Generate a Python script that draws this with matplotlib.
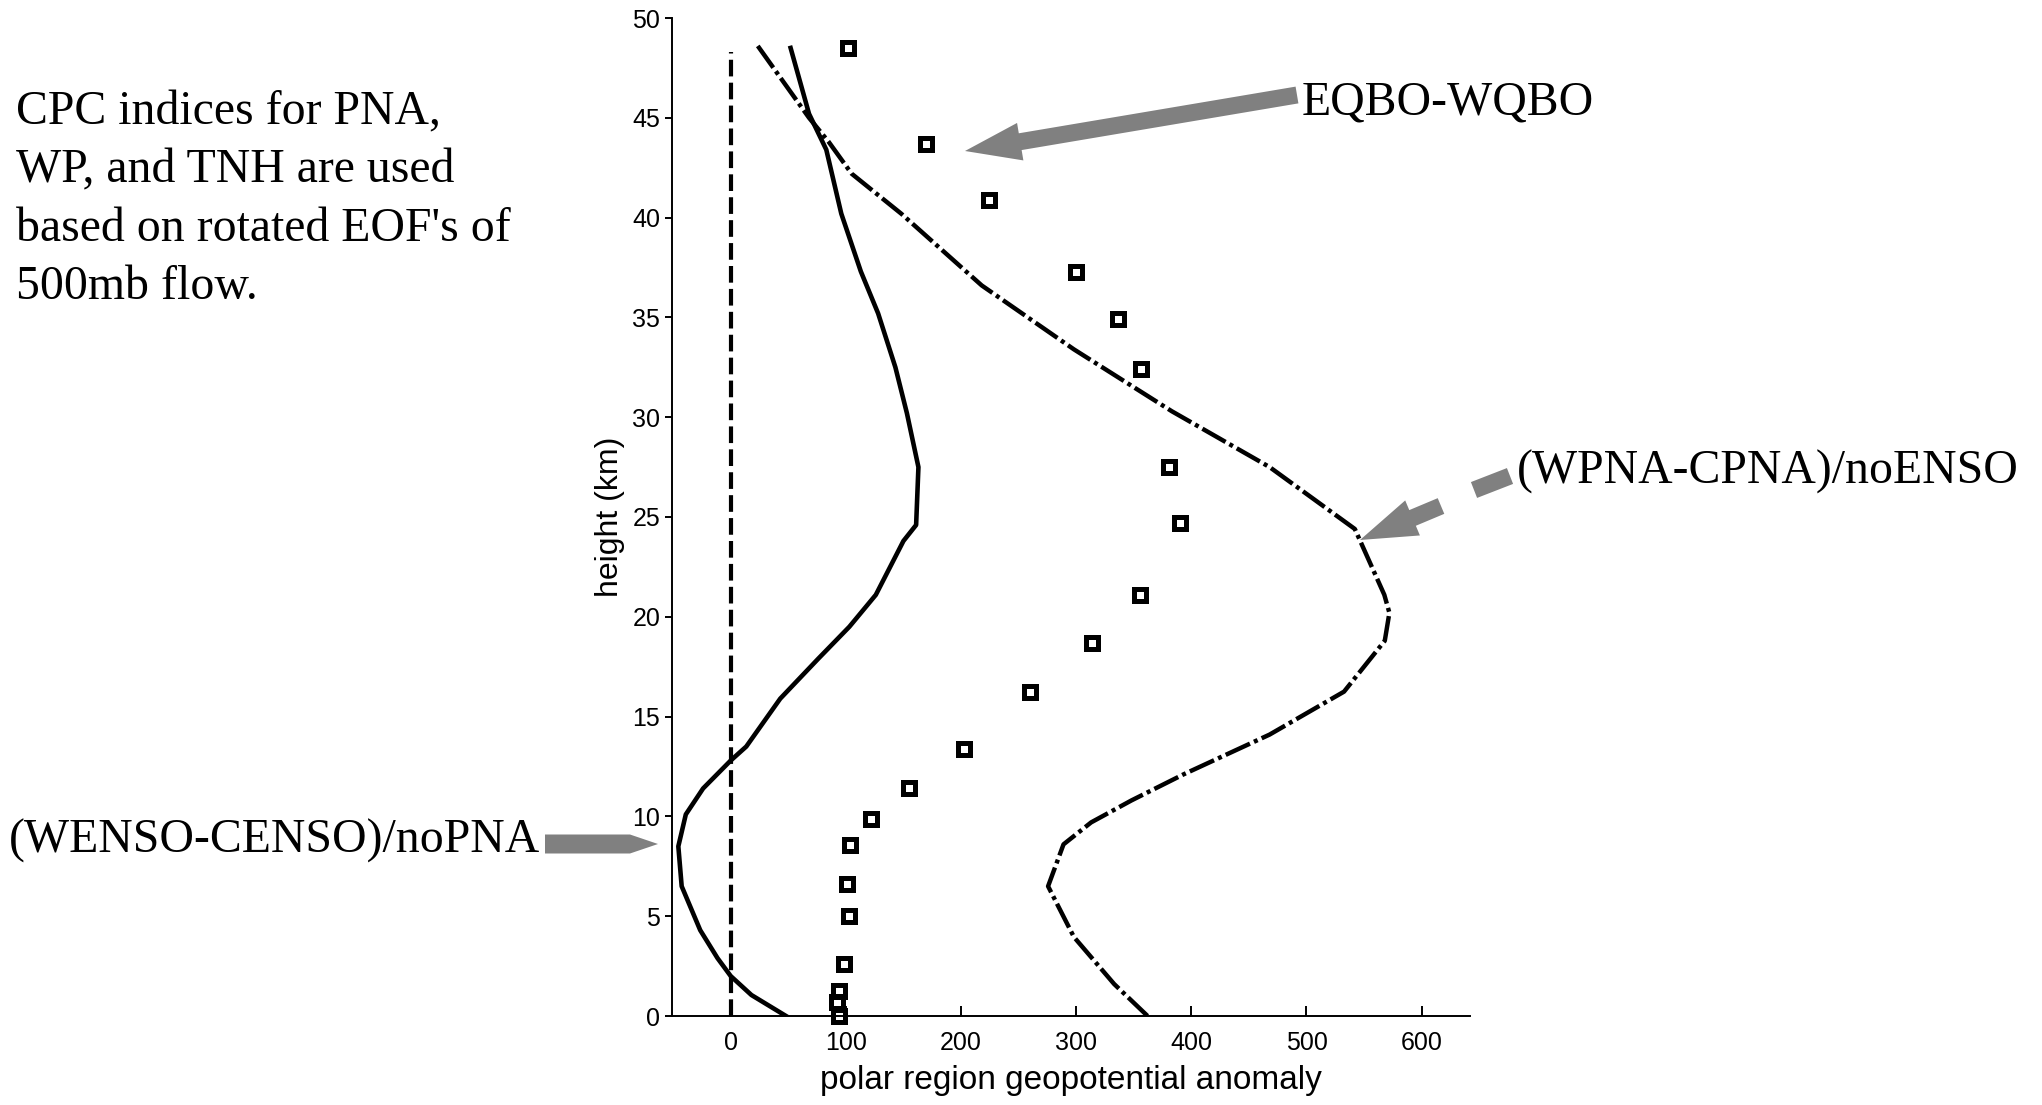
import numpy as np
import matplotlib
matplotlib.use("Agg")
import matplotlib.pyplot as plt
from matplotlib import transforms
from matplotlib.patches import FancyArrow, Polygon

# profiles: x = polar region geopotential anomaly, y = height (km)
solid_x = [52, 68, 83, 96, 113, 128, 143, 153, 163, 161, 150, 126, 103, 76, 43,
           13.5, 0, -24, -39, -45.5, -42.6, -26.5, -11.5, 0, 18, 48]
solid_y = [48.5, 45.2, 43.4, 40.2, 37.3, 35.2, 32.5, 30.2, 27.5, 24.6, 23.8, 21.1,
           19.5, 17.9, 15.9, 13.5, 12.8, 11.4, 10.1, 8.5, 6.5, 4.3, 2.9, 2.0, 1.05, 0.0]

dashdot_x = [23.5, 68, 85, 105, 148, 218, 298, 383, 468, 542, 567.6, 572, 568, 532.6,
             468, 393, 348, 313, 289, 275.6, 298, 333, 362]
dashdot_y = [48.6, 45, 43.8, 42.2, 40.2, 36.6, 33.4, 30.3, 27.5, 24.4, 21.1, 20.2, 18.8,
             16.25, 14.1, 12.1, 10.8, 9.7, 8.6, 6.5, 3.96, 1.6, 0.0]

square_x = [102, 170, 224, 300, 336, 356, 381, 390, 355, 314, 260, 203, 155, 122,
            104, 101, 103, 98, 94, 92, 94]
square_y = [48.5, 43.7, 40.9, 37.25, 34.9, 32.4, 27.5, 24.7, 21.1, 18.7, 16.25, 13.4,
            11.4, 9.85, 8.55, 6.6, 5.0, 2.6, 1.25, 0.7, 0.0]

zero_x = [0, 0]
zero_y = [0, 48.3]

x_ticks = [0, 100, 200, 300, 400, 500, 600]
y_ticks = [0, 5, 10, 15, 20, 25, 30, 35, 40, 45, 50]

note_lines = ["CPC indices for PNA,", "WP, and TNH are used",
              "based on rotated EOF's of", "500mb flow."]
label_qbo = "EQBO-WQBO"
label_pna = "(WPNA-CPNA)/noENSO"
label_enso = "(WENSO-CENSO)/noPNA"

W, H = 2042, 1105
fig = plt.figure(figsize=(W / 100, H / 100), dpi=100)
ax = fig.add_axes([672 / W, 1 - 1016 / H, (1470 - 672) / W, (1016 - 18) / H])

ax.plot(zero_x, zero_y, color="k", lw=3.0, dashes=(4, 1.5))
ax.plot(solid_x, solid_y, color="k", lw=3.3, solid_joinstyle="round")
ax.plot(dashdot_x, dashdot_y, color="k", lw=3.2, dashes=(6, 1.0, 0.9, 1.0))
ax.plot(square_x, square_y, ls="none", marker="s", ms=8.5, mfc="none",
        mec="k", mew=3.6, clip_on=False)

ax.set_xlim(-51, 642)
ax.set_ylim(0, 50)
ax.set_xticks(x_ticks)
ax.set_yticks(y_ticks)
for s in ["top", "right"]:
    ax.spines[s].set_visible(False)
for s in ["left", "bottom"]:
    ax.spines[s].set_linewidth(1.4)
ax.tick_params(axis="y", direction="out", length=5, width=1.4, pad=3.5, labelsize=18)
ax.tick_params(axis="x", direction="in", length=7, width=1.4, pad=11, labelsize=18)
for t in ax.get_xticklabels() + ax.get_yticklabels():
    t.set_family("Liberation Sans")
ax.set_xlabel("polar region geopotential anomaly", fontsize=24,
              family="Liberation Sans", labelpad=7)
ax.set_ylabel("height (km)", fontsize=23, family="Liberation Sans", labelpad=5)

# annotations in image pixels (origin top-left)
pix = transforms.Affine2D().scale(1, -1).translate(0, H).scale(1 / 100) + fig.dpi_scale_trans
serif = dict(family="Liberation Serif", fontsize=34.4, color="k", transform=pix)

for i, line in enumerate(note_lines):
    fig.text(16, 124 + i * 58.3, line, va="baseline", **serif)
fig.text(1302, 114, label_qbo, va="baseline", **serif)
fig.text(1517, 484, label_pna, va="baseline", **serif)
fig.text(540, 853, label_enso, va="baseline", ha="right", **serif)

gray = "#808080"


def arrow(tail, tip, width, head_width, head_length):
    a = FancyArrow(tail[0], tail[1], tip[0] - tail[0], tip[1] - tail[1],
                   width=width, head_width=head_width, head_length=head_length,
                   length_includes_head=True, color=gray, lw=0, transform=pix)
    fig.add_artist(a)


def bar(p0, p1, width):
    p0, p1 = np.array(p0, float), np.array(p1, float)
    d = p1 - p0
    n = np.array([-d[1], d[0]]) / np.hypot(*d) * width / 2
    fig.add_artist(Polygon([p0 + n, p1 + n, p1 - n, p0 - n], closed=True,
                           color=gray, lw=0, transform=pix))


arrow((1297, 95), (965, 151), 17, 38, 56)
arrow((545, 844), (658, 844), 19, 19, 28)
arrow((1441, 506), (1360, 540), 17, 38, 57)
bar((1474, 490), (1510, 476), 17)

fig.savefig("out.png", dpi=100)
